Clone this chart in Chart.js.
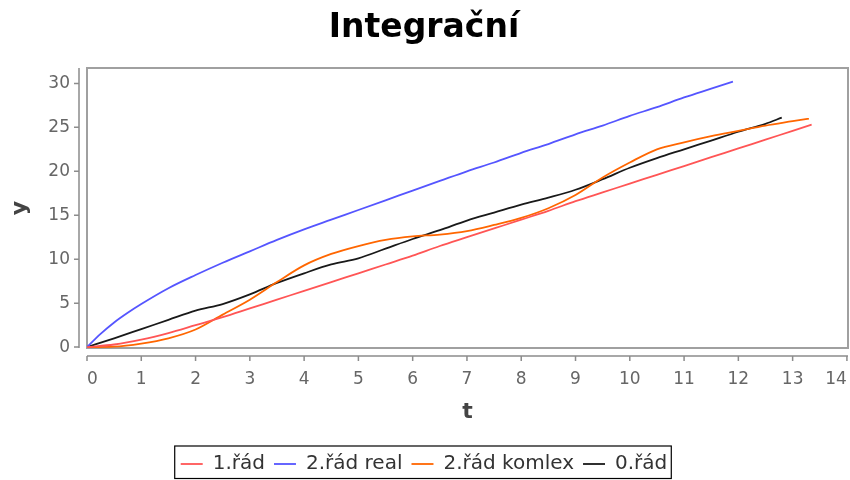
<!DOCTYPE html>
<html lang="cs">
<head>
    <meta charset="UTF-8">
    <title>Integrační</title>
    <script src="https://cdn.jsdelivr.net/npm/chart.js"></script>
    <style>
        html, body { margin: 0; padding: 0; background: #fff; overflow: hidden; }
        #wrap { width: 850px; height: 480px; }
    </style>
</head>
<body>
    <div id="wrap"><canvas id="myChart" width="850" height="480"></canvas></div>
    <script>
        // hodnoty
        const tRed = [0, 0.5, 1, 1.5, 2, 2.5, 3, 3.5, 4, 4.5, 5, 5.5, 6, 6.5, 7, 7.5, 8, 8.5, 9, 9.5, 10, 10.5, 11, 11.5, 12, 12.5, 13, 13.35];
        const yRed = [0, 0.3, 0.85, 1.6, 2.5, 3.4, 4.4, 5.4, 6.4, 7.4, 8.4, 9.4, 10.4, 11.5, 12.5, 13.5, 14.5, 15.5, 16.6, 17.6, 18.6, 19.6, 20.6, 21.6, 22.6, 23.6, 24.6, 25.3];

        const tBlue = [0, 0.25, 0.5, 0.75, 1, 1.5, 2, 2.5, 3, 3.5, 4, 4.5, 5, 5.5, 6, 6.5, 7, 7.5, 8, 8.5, 9, 9.5, 10, 10.5, 11, 11.5, 11.9];
        const yBlue = [0, 1.5, 2.8, 3.9, 4.9, 6.7, 8.2, 9.6, 10.9, 12.2, 13.4, 14.5, 15.6, 16.7, 17.8, 18.9, 20.0, 21.0, 22.1, 23.1, 24.2, 25.2, 26.3, 27.3, 28.4, 29.4, 30.2];

        const tOrange = [0, 0.5, 1, 1.5, 2, 2.5, 3, 3.5, 4, 4.5, 5, 5.5, 6, 6.5, 7, 7.5, 8, 8.5, 9, 9.5, 10, 10.5, 11, 11.5, 12, 12.5, 13, 13.3];
        const yOrange = [0, 0.05, 0.4, 1.0, 2.0, 3.7, 5.4, 7.4, 9.3, 10.6, 11.5, 12.2, 12.6, 12.8, 13.2, 13.9, 14.7, 15.8, 17.3, 19.3, 21.0, 22.5, 23.3, 24.0, 24.6, 25.2, 25.7, 26.0];

        const tBlack = [0, 0.5, 1, 1.5, 2, 2.5, 3, 3.5, 4, 4.5, 5, 5.5, 6, 6.5, 7, 7.5, 8, 8.5, 9, 9.5, 10, 10.5, 11, 11.5, 12, 12.5, 12.8];
        const yBlack = [0, 1.0, 2.05, 3.1, 4.15, 4.9, 6.0, 7.3, 8.4, 9.4, 10.1, 11.2, 12.3, 13.3, 14.4, 15.3, 16.2, 17.0, 17.9, 19.1, 20.4, 21.5, 22.5, 23.5, 24.5, 25.4, 26.1];

        const xTicks = [0, 1, 2, 3, 4, 5, 6, 7, 8, 9, 10, 11, 12, 13, 14];
        const yTicks = [0, 5, 10, 15, 20, 25, 30];

        const seriesNames = ['1.řád', '2.řád real', '2.řád komlex', '0.řád'];

        const pts = (ts, ys) => ts.map((t, i) => ({ x: t, y: ys[i] }));
        const FONT = 'DejaVu Sans';

        // rámeček grafu, odsazené osy a rámeček legendy
        const frame = {
            id: 'frame',
            beforeDatasetsDraw(chart) {
                const { ctx, chartArea: a, scales } = chart;
                ctx.save();
                ctx.strokeStyle = '#a0a0a0';
                ctx.lineWidth = 2;
                ctx.strokeRect(a.left, a.top, a.right - a.left, a.bottom - a.top);

                ctx.strokeStyle = '#8c8c8c';
                ctx.lineWidth = 1.5;
                const ax = a.left - 8, ay = a.bottom + 8;
                ctx.beginPath();
                ctx.moveTo(ax, a.top); ctx.lineTo(ax, a.bottom);
                scales.y.ticks.forEach(t => {
                    const py = scales.y.getPixelForValue(t.value);
                    ctx.moveTo(ax - 5, py); ctx.lineTo(ax, py);
                });
                ctx.moveTo(a.left, ay); ctx.lineTo(a.right, ay);
                scales.x.ticks.forEach(t => {
                    const px = scales.x.getPixelForValue(t.value);
                    ctx.moveTo(px, ay); ctx.lineTo(px, ay + 5);
                });
                ctx.stroke();
                ctx.restore();
            },
            afterDraw(chart) {
                const { ctx } = chart;
                const hb = chart.legend.legendHitBoxes;
                if (!hb || !hb.length) return;
                const left = Math.min(...hb.map(h => h.left)) - 6;
                const right = Math.max(...hb.map(h => h.left + h.width)) + 4;
                const top = chart.legend.top + 1;
                const bottom = chart.height - 1.5;
                ctx.save();
                ctx.strokeStyle = '#000';
                ctx.lineWidth = 1.2;
                ctx.strokeRect(left, top, right - left, bottom - top);
                ctx.restore();
            }
        };

        const ctx = document.getElementById('myChart').getContext('2d');
        const myChart = new Chart(ctx, {
            type: 'line',
            data: {
                datasets: [
                    { label: seriesNames[0], data: pts(tRed, yRed), borderColor: 'rgb(255,85,85)' },
                    { label: seriesNames[1], data: pts(tBlue, yBlue), borderColor: 'rgb(85,85,255)' },
                    { label: seriesNames[2], data: pts(tOrange, yOrange), borderColor: 'rgb(255,102,0)' },
                    { label: seriesNames[3], data: pts(tBlack, yBlack), borderColor: 'rgb(25,25,25)' }
                ].map(d => Object.assign(d, {
                    borderWidth: 1.8,
                    pointRadius: 0,
                    fill: false,
                    cubicInterpolationMode: 'monotone',
                    backgroundColor: d.borderColor
                }))
            },
            options: {
                responsive: false,
                animation: false,
                layout: { padding: { left: 0, right: 2, top: 0, bottom: -4 } },
                plugins: {
                    title: {
                        display: true,
                        text: 'Integrační',
                        color: '#000',
                        font: { family: FONT, size: 33, weight: 'bold' },
                        padding: { top: 9, bottom: 19.4 }
                    },
                    legend: {
                        position: 'bottom',
                        labels: {
                            usePointStyle: true,
                            pointStyle: 'line',
                            pointStyleWidth: 22,
                            padding: 9,
                            color: '#333',
                            font: { family: FONT, size: 20 }
                        }
                    },
                    tooltip: { enabled: false }
                },
                scales: {
                    x: {
                        type: 'linear',
                        min: 0,
                        max: 14.02,
                        afterBuildTicks: s => { s.ticks = xTicks.map(v => ({ value: v })); },
                        afterFit: s => { s.height = 97; s.paddingLeft = 0; s.paddingRight = 0; },
                        grid: { display: false, drawTicks: false },
                        border: { display: false },
                        ticks: { color: '#666', padding: 21, maxRotation: 0, align: 'inner', font: { family: FONT, size: 17 } },
                        title: {
                            display: true, text: 't', color: '#444',
                            font: { family: FONT, size: 22, weight: 'bold' },
                            padding: { top: 0, bottom: 20 }
                        }
                    },
                    y: {
                        type: 'linear',
                        min: -0.1,
                        max: 31.75,
                        afterBuildTicks: s => { s.ticks = yTicks.map(v => ({ value: v })); },
                        afterFit: s => { s.width = 87; },
                        grid: { display: false, drawTicks: false },
                        border: { display: false },
                        ticks: { color: '#666', padding: 17, font: { family: FONT, size: 17 } },
                        title: {
                            display: true, text: 'y', color: '#444',
                            font: { family: FONT, size: 22, weight: 'bold' },
                            padding: { top: 7, bottom: 0 }
                        }
                    }
                }
            },
            plugins: [frame]
        });
    </script>
</body>
</html>
